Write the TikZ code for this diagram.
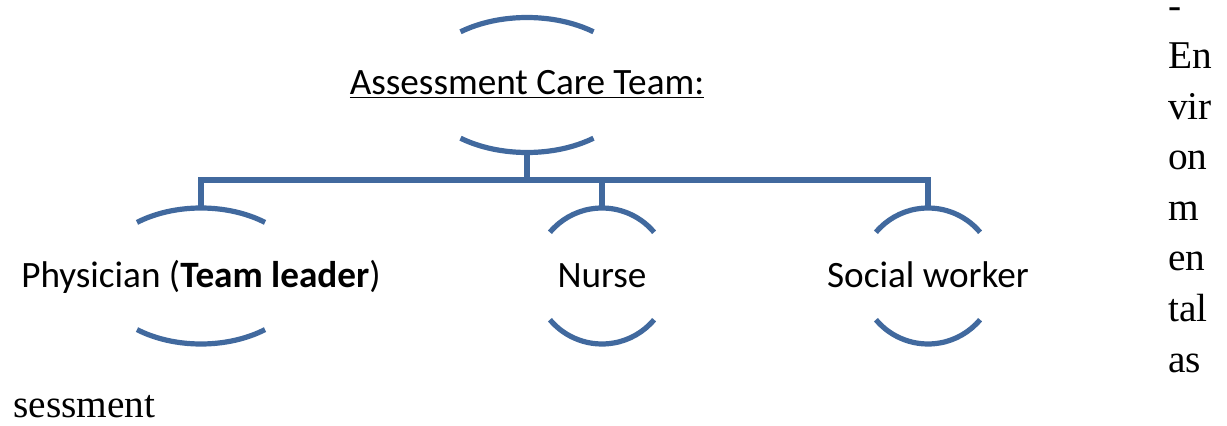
\documentclass[tikz,border=0pt]{standalone}
\usepackage{fontspec}
\setsansfont{Carlito}
\newfontfamily\bodyserif{Liberation Serif}
\usetikzlibrary{calc}
\definecolor{teamblue}{RGB}{65,105,158}
\tikzset{
  arcline/.style={draw=teamblue, line width=3.9pt},
  link/.style={draw=teamblue, line width=3.9pt},
  role/.style={font=\sffamily\fontsize{27.9}{33}\selectfont, inner sep=0pt, anchor=base},
  wrap/.style={font=\bodyserif\fontsize{29.5}{35}\selectfont, inner sep=0pt, anchor=base west}
}
% two arcs round a node: name, x radius, y radius, angle
\newcommand\bracketarcs[4]{%
  \draw[arcline] ($(#1c)+(#4:#2 and #3)$) arc[start angle=#4, end angle=180-#4, x radius=#2, y radius=#3];
  \draw[arcline] ($(#1c)+(180+#4:#2 and #3)$) arc[start angle=180+#4, end angle=360-#4, x radius=#2, y radius=#3];
  \coordinate (#1-top) at ($(#1c)+(0,#3)$);
  \coordinate (#1-bot) at ($(#1c)+(0,-#3)$);
}

\begin{document}
\begin{tikzpicture}[x=0.75pt, y=0.75pt]
\useasboundingbox (0,0) rectangle (1227,425);

% centres of the bracket pairs
\coordinate (teamc) at (527,340);
\coordinate (physc) at (201,149);
\coordinate (nursec) at (602,149);
\coordinate (socialc) at (928,149);

\node[role] (team) at (527,330) {\underline{Assessment Care Team:}};
\node[role] (phys) at (201,137.5) {Physician (\textbf{Team leader})};
\node[role] (nurse) at (602,137.5) {Nurse};
\node[role] (social) at (928,137.5) {Social worker};

\bracketarcs{team}{108}{67.5}{52}
\bracketarcs{phys}{104}{68}{52}
\bracketarcs{nurse}{68}{68}{40}
\bracketarcs{social}{68}{68}{40}

\coordinate (bus) at (527,245);
\draw[link] (team-bot) -- (bus);
\draw[link] (phys-top) |- (bus) -| (social-top);
\draw[link] (nurse-top) -- (nurse-top |- bus);

% text running down the right margin
\foreach \w [count=\i] in {-,En,vir,on,m,en,tal,as}
  \node[wrap] (env-\i) at (1168,406.5-50.5*\i+50.5) {\w};
\node[wrap] (env-end) at (13,8) {sessment};
\end{tikzpicture}
\end{document}
